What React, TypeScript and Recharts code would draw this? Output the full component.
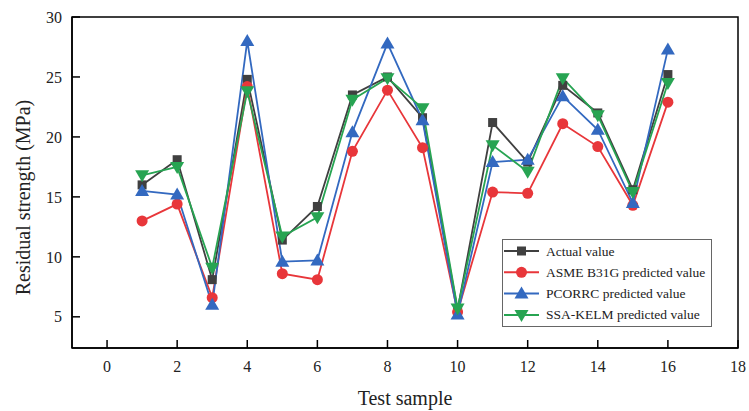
import React from "react";
import {
  LineChart,
  Line,
  XAxis,
  YAxis,
  Legend,
  ReferenceArea,
  Label,
} from "recharts";

const samples = [1, 2, 3, 4, 5, 6, 7, 8, 9, 10, 11, 12, 13, 14, 15, 16];
const actual = [16.0, 18.1, 8.1, 24.8, 11.4, 14.2, 23.5, 25.0, 21.6, 5.6, 21.2, 17.9, 24.3, 22.0, 15.6, 25.2];
const asme = [13.0, 14.4, 6.6, 24.2, 8.6, 8.1, 18.8, 23.9, 19.1, 5.4, 15.4, 15.3, 21.1, 19.2, 14.3, 22.9];
const pcorrc = [15.5, 15.2, 6.0, 28.0, 9.6, 9.7, 20.4, 27.8, 21.4, 5.2, 17.9, 18.1, 23.4, 20.6, 14.5, 27.3];
const ssaKelm = [16.8, 17.5, 9.1, 23.8, 11.7, 13.3, 23.1, 24.9, 22.4, 5.7, 19.3, 17.1, 24.9, 21.8, 15.4, 24.5];

const xTicks = [0, 2, 4, 6, 8, 10, 12, 14, 16, 18];
const yTicks = [5, 10, 15, 20, 25, 30];

const data = samples.map((s, i) => ({
  sample: s,
  actual: actual[i],
  asme: asme[i],
  pcorrc: pcorrc[i],
  ssa: ssaKelm[i],
}));

type Shape = "square" | "circle" | "up" | "down";

const series: { key: string; name: string; color: string; shape: Shape }[] = [
  { key: "actual", name: "Actual value", color: "#404040", shape: "square" },
  { key: "asme", name: "ASME B31G predicted value", color: "#e8363a", shape: "circle" },
  { key: "pcorrc", name: "PCORRC predicted value", color: "#3369c0", shape: "up" },
  { key: "ssa", name: "SSA-KELM predicted value", color: "#27a452", shape: "down" },
];

const FONT = "'Liberation Serif', 'Times New Roman', serif";

const Marker = ({ shape, cx, cy, color }: { shape: Shape; cx: number; cy: number; color: string }) => {
  if (shape === "square")
    return <rect x={cx - 4.5} y={cy - 4.5} width={9} height={9} fill={color} />;
  if (shape === "circle") return <circle cx={cx} cy={cy} r={5.5} fill={color} />;
  if (shape === "up")
    return <polygon points={`${cx},${cy - 7} ${cx + 7},${cy + 5} ${cx - 7},${cy + 5}`} fill={color} />;
  return <polygon points={`${cx},${cy + 7} ${cx + 7},${cy - 5} ${cx - 7},${cy - 5}`} fill={color} />;
};

const LegendBox = () => (
  <svg width={210} height={88} style={{ display: "block" }}>
    <rect x={0.5} y={0.5} width={209} height={87} fill="#fff" stroke="#666" />
    {series.map((s, i) => {
      const y = 12 + i * 21.3;
      return (
        <g key={s.key}>
          <line x1={2} x2={37} y1={y} y2={y} stroke={s.color} strokeWidth={2} />
          <Marker shape={s.shape} cx={19.5} cy={y} color={s.color} />
          <text x={44} y={y} dominantBaseline="central" fontSize={13.5} fontFamily={FONT} fill="#222">
            {s.name}
          </text>
        </g>
      );
    })}
  </svg>
);

export default function App() {
  return (
    <div style={{ width: 749, height: 411, background: "#fff" }}>
      <style>{`body{margin:0}`}</style>
      <LineChart
        width={749}
        height={411}
        data={data}
        margin={{ top: 17, right: 11, bottom: 13, left: 0 }}
      >
        <XAxis
          dataKey="sample"
          type="number"
          domain={[-1, 18]}
          ticks={xTicks}
          interval={0}
          height={50}
          tickSize={-8}
          tickMargin={21}
          axisLine={{ stroke: "#000", strokeWidth: 1.5 }}
          tickLine={{ stroke: "#000", strokeWidth: 1.5 }}
          tick={{ fill: "#222", fontSize: 16, fontFamily: FONT }}
        >
          <Label
            content={(props: any) => {
              const vb = props.viewBox;
              return (
                <text
                  x={vb.x + vb.width / 2}
                  y={vb.y + 50}
                  textAnchor="middle"
                  dominantBaseline="central"
                  fontSize={20}
                  fontFamily={FONT}
                  fill="#222"
                >
                  Test sample
                </text>
              );
            }}
          />
        </XAxis>
        <YAxis
          type="number"
          domain={[2.4, 30]}
          ticks={yTicks}
          interval={0}
          width={72}
          allowDataOverflow
          tickSize={-8}
          tickMargin={18}
          axisLine={{ stroke: "#000", strokeWidth: 1.5 }}
          tickLine={{ stroke: "#000", strokeWidth: 1.5 }}
          tick={{ fill: "#222", fontSize: 16, fontFamily: FONT }}
        >
          <Label
            content={(props: any) => {
              const vb = props.viewBox;
              const cx = vb.x + 23;
              const cy = vb.y + vb.height / 2 + 15;
              return (
                <text
                  x={cx}
                  y={cy}
                  transform={`rotate(-90 ${cx} ${cy})`}
                  textAnchor="middle"
                  dominantBaseline="central"
                  fontSize={20}
                  fontFamily={FONT}
                  fill="#222"
                >
                  Residual strength (MPa)
                </text>
              );
            }}
          />
        </YAxis>
        <ReferenceArea
          x1={-1}
          x2={18}
          y1={2.4}
          y2={30}
          fill="none"
          stroke="#000"
          strokeWidth={1.5}
          ifOverflow="visible"
        />
        {series.map((s) => (
          <Line
            key={s.key}
            dataKey={s.key}
            name={s.name}
            stroke={s.color}
            strokeWidth={1.8}
            isAnimationActive={false}
            activeDot={false}
            dot={(p: any) => (
              <Marker key={`${s.key}-${p.index}`} shape={s.shape} cx={p.cx} cy={p.cy} color={s.color} />
            )}
          />
        ))}
        <Legend
          layout="vertical"
          align="center"
          verticalAlign="middle"
          content={() => <LegendBox />}
          wrapperStyle={{ left: 502, top: 239, width: 210, height: 88 }}
        />
      </LineChart>
    </div>
  );
}
